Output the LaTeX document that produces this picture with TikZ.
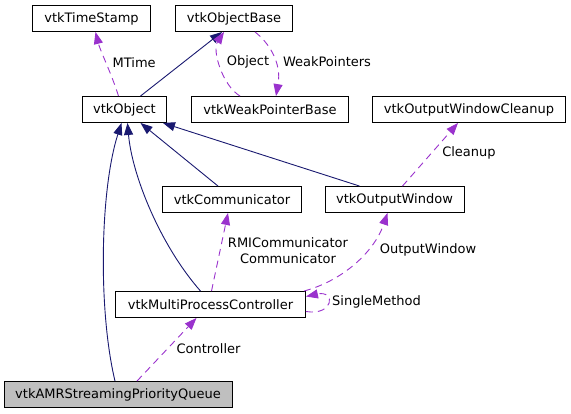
\documentclass[tikz,border=0pt]{standalone}
\usepackage{fontspec}
\setmainfont{DejaVu Sans}
\usetikzlibrary{arrows.meta}
\definecolor{navy}{HTML}{191970}
\definecolor{orchid}{HTML}{9A32CD}
\definecolor{mainfill}{HTML}{BFBFBF}
\tikzset{
  box/.style={draw=black, line width=0.9pt, rectangle, inner sep=0pt, minimum height=26pt, fill=white,
    font=\fontsize{13}{15.6}\selectfont},
  lbl/.style={inner sep=0pt, align=center, font=\fontsize{13}{15.6}\selectfont},
  inh/.style={draw=navy, line width=0.9pt, -{Triangle[length=12pt,width=9pt]}},
  use/.style={draw=orchid, line width=0.9pt, dash pattern=on 7pt off 5pt, -{Triangle[length=12pt,width=9pt]}},
}
\begin{document}
\begin{tikzpicture}[x=1pt,y=-1pt]
\useasboundingbox (0,0) rectangle (571,413);
\node[box, minimum width=118pt] (ts) at (91.5,18.5) {vtkTimeStamp};
\node[box, minimum width=117pt] (ob) at (234,18.5) {vtkObjectBase};
\node[box, minimum width=84pt] (obj) at (124.5,109.5) {vtkObject};
\node[box, minimum width=157pt] (wpb) at (270,109.5) {vtkWeakPointerBase};
\node[box, minimum width=193pt] (owc) at (469,109.5) {vtkOutputWindowCleanup};
\node[box, minimum width=139pt] (comm) at (232,199.5) {vtkCommunicator};
\node[box, minimum width=139pt] (ow) at (394.5,199.5) {vtkOutputWindow};
\node[box, minimum width=190pt] (mpc) at (210.5,304.5) {vtkMultiProcessController};
\node[box, minimum width=228pt, fill=mainfill] (amr) at (118,394.5) {vtkAMRStreamingPriorityQueue};

% inheritance
\draw[inh] ([xshift=16pt]obj.north) -- ([xshift=-12pt]ob.south);
\draw[inh] ([xshift=-14pt]comm.north) -- ([xshift=16pt]obj.south);
\draw[inh] ([xshift=-35pt]ow.north) -- ([xshift=-4pt]obj.south east);
\draw[inh] ([xshift=-10pt]mpc.north) .. controls (160,245) and (132,175) .. ([xshift=3pt]obj.south);
\draw[inh] ([xshift=-3pt]amr.north) .. controls (98,310) and (100,190) .. ([xshift=-3pt]obj.south);

% usage
\draw[use] ([xshift=-6pt]obj.north) .. controls (112,75) and (100,50) .. ([xshift=4pt]ts.south) node[lbl, pos=0.5, right=6pt] (lmt) {MTime};
\draw[use] ([xshift=-30pt]wpb.north) .. controls (222,85) and (212,50) .. ([xshift=-10pt]ob.south);
\node[lbl] (lobj) at (248,62) {Object};
\draw[use] ([xshift=21pt]ob.south) .. controls (268,42) and (282,62) .. ([xshift=6pt]wpb.north);
\node[lbl] (lwp) at (327,62) {WeakPointers};
\draw[use] ([xshift=8pt]ow.north) -- ([xshift=-11pt]owc.south);
\node[lbl] (lcl) at (469,153) {Cleanup};
\draw[use] ([xshift=1pt]mpc.north) -- ([xshift=-4pt]comm.south);
\node[lbl] (lrmi) at (288,250.5) {RMICommunicator\\Communicator};
\draw[use] ([xshift=-2pt]mpc.north east) .. controls (345,280) and (375,250) .. ([xshift=-7pt]ow.south);
\node[lbl] (low) at (428,250) {OutputWindow};
\draw[use] ([yshift=-7pt]mpc.east) .. controls (334,316) and (336,290) .. ([yshift=8pt]mpc.east);
\node[lbl] (lsm) at (376.5,302) {SingleMethod};
\draw[use] ([xshift=19pt]amr.north) -- ([xshift=-14pt]mpc.south);
\node[lbl] (lct) at (208.5,348.5) {Controller};
\end{tikzpicture}
\end{document}
